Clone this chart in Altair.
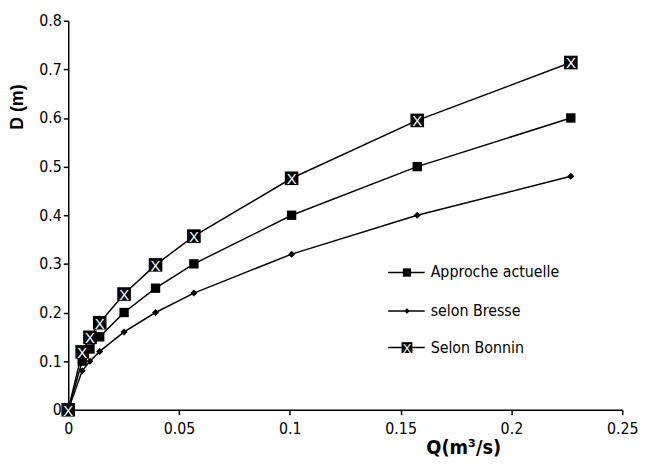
import altair as alt
import pandas as pd

# Data
Q = [0, 0.0063, 0.0098, 0.0142, 0.0252, 0.0394, 0.0567, 0.1008, 0.1575, 0.2268]
approche = [0, 0.100, 0.125, 0.150, 0.200, 0.250, 0.300, 0.400, 0.500, 0.600]
bresse = [0, 0.080, 0.100, 0.120, 0.160, 0.200, 0.240, 0.320, 0.400, 0.480]
bonnin = [0, 0.119, 0.149, 0.179, 0.238, 0.298, 0.357, 0.476, 0.595, 0.714]
series_names = ["Approche actuelle", "selon Bresse", "Selon Bonnin"]
x_ticks = [0, 0.05, 0.1, 0.15, 0.2, 0.25]
y_ticks = [0, 0.1, 0.2, 0.3, 0.4, 0.5, 0.6, 0.7, 0.8]

df = pd.DataFrame({
    "Q": Q * 3,
    "D": approche + bresse + bonnin,
    "serie": [n for n in series_names for _ in Q],
})

NARROW = "Liberation Sans Narrow, DejaVu Sans Condensed, Liberation Sans, Arial, sans-serif"
WIDE = "Liberation Sans, Arial, sans-serif"

x_enc = alt.X(
    "Q:Q",
    scale=alt.Scale(domain=[0, 0.25], nice=False),
    axis=alt.Axis(
        values=x_ticks, format="~g", title="Q(m³/s)", grid=False,
        titleFont=NARROW, titleFontSize=20, titleFontWeight="bold",
        titleX=400, titleY=38, titleAlign="center", titleBaseline="middle",
        labelPadding=6, labelFlush=False,
    ),
)
y_enc = alt.Y(
    "D:Q",
    scale=alt.Scale(domain=[0, 0.8], nice=False),
    axis=alt.Axis(
        values=y_ticks, format="~g", title="D (m)", grid=False,
        titleFont=WIDE, titleFontSize=18, titleFontWeight="bold",
        titleX=-51, titleY=87, titleAlign="center", titleBaseline="middle",
        titleAngle=270, labelPadding=2, labelFlush=False,
    ),
)

base = alt.Chart(df)
lines = base.mark_line(color="black", strokeWidth=1.5).encode(
    x=x_enc, y=y_enc, detail="serie:N")

sq = base.transform_filter(alt.datum.serie == "Approche actuelle").mark_point(
    shape="square", filled=True, color="black", size=90, opacity=1).encode(x=x_enc, y=y_enc)
dia = base.transform_filter(alt.datum.serie == "selon Bresse").mark_point(
    shape="diamond", filled=True, color="black", size=50, opacity=1).encode(x=x_enc, y=y_enc)
bon = base.transform_filter(alt.datum.serie == "Selon Bonnin").mark_point(
    shape="square", filled=True, color="black", size=190, opacity=1).encode(x=x_enc, y=y_enc)
bonx = base.transform_filter(alt.datum.serie == "Selon Bonnin").mark_text(
    text="X", color="white", fontSize=15, font=WIDE, align="center", baseline="middle", dy=1
).encode(x=x_enc, y=y_enc)

# Manual legend
leg_df = pd.DataFrame({"a": [0]})
leg_layers = []
rows_y = [255, 294, 331]
for name, yy in zip(series_names, rows_y):
    lb = alt.Chart(leg_df)
    leg_layers.append(lb.mark_rule(color="black", strokeWidth=1.5).encode(
        x=alt.value(324), x2=alt.value(361), y=alt.value(yy)))
    if name == "Approche actuelle":
        leg_layers.append(lb.mark_point(shape="square", filled=True, color="black", size=70, opacity=1).encode(
            x=alt.value(343), y=alt.value(yy)))
    elif name == "selon Bresse":
        leg_layers.append(lb.mark_point(shape="diamond", filled=True, color="black", size=30, opacity=1).encode(
            x=alt.value(343), y=alt.value(yy)))
    else:
        leg_layers.append(lb.mark_point(shape="square", filled=True, color="black", size=120, opacity=1).encode(
            x=alt.value(343), y=alt.value(yy)))
        leg_layers.append(lb.mark_text(text="X", color="white", fontSize=13, font=WIDE, align="center",
                                       baseline="middle", dy=1).encode(x=alt.value(343), y=alt.value(yy)))
    leg_layers.append(lb.mark_text(text=name, color="black", fontSize=16, font=NARROW, align="left",
                                   baseline="middle").encode(x=alt.value(367), y=alt.value(yy)))

chart = alt.layer(lines, dia, sq, bon, bonx, *leg_layers).properties(
    width=561, height=394, autosize="none",
    padding={"left": 61, "top": 10, "right": 18, "bottom": 49},
).configure_view(stroke=None).configure_axis(
    domainColor="black", domainWidth=1.5, tickColor="black", tickWidth=1.5, tickSize=5,
    labelFont=NARROW, labelFontSize=16, labelColor="black", titleColor="black",
)

chart.save("out.html", embed_options={"renderer": "svg", "actions": False})
